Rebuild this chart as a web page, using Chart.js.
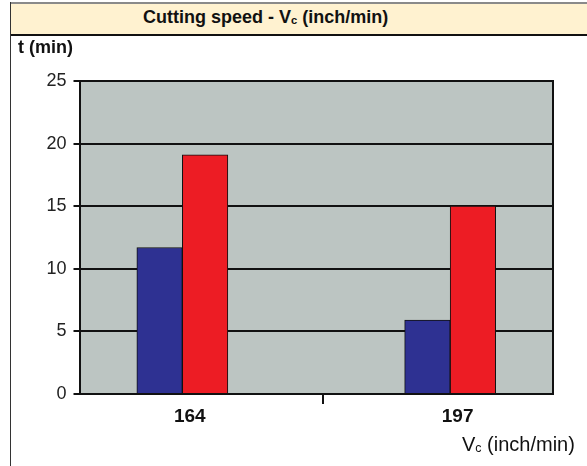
<!DOCTYPE html>
<html>
<head>
<meta charset="utf-8">
<script src="https://cdn.jsdelivr.net/npm/chart.js@4"></script>
<style>
  html, body { margin:0; padding:0; background:#fff; }
  #wrap { position:relative; width:587px; height:466px; overflow:hidden; font-family:"Liberation Sans", Arial, sans-serif; }
  #c { position:absolute; left:0; top:0; }
  #band { position:absolute; left:10px; top:2px; width:590px; height:30px; background:#FFF2D0; border-top:2px solid #8a8a8a; border-bottom:2px solid #111; border-left:1px solid #333; }
  #leftline { position:absolute; left:10px; top:2px; width:1px; height:470px; background:#333; }
  #title { position:absolute; left:143px; top:7px; font-weight:bold; font-size:18px; color:#111; white-space:nowrap; }
  #ytitle { position:absolute; left:18px; top:37px; font-weight:bold; font-size:18px; color:#111; white-space:nowrap; }
  #xtitle { position:absolute; left:462px; top:433px; font-size:20px; color:#111; white-space:nowrap; }
  sub { font-size:0.62em; vertical-align:-0.1em; }
</style>
</head>
<body>
<div id="wrap">
  <canvas id="c" width="587" height="466"></canvas>
  <div id="band"></div>
  <div id="leftline"></div>
  <div id="title">Cutting speed - V<sub>c</sub> (inch/min)</div>
  <div id="ytitle">t (min)</div>
  <div id="xtitle">V<sub>c</sub> (inch/min)</div>
</div>
<script>
const categories = ['164', '197'];
const seriesBlue = [11.7, 5.9];
const seriesRed = [19.1, 15.0];
const yTicks = [0, 5, 10, 15, 20, 25];

const LABEL_SHIFT = 0.028;
const SEP_TICK = 0.525;

const bgPlugin = {
  id: 'plotBg',
  beforeDraw(chart) {
    const a = chart.chartArea, ctx = chart.ctx;
    ctx.save();
    ctx.fillStyle = '#BCC5C2';
    ctx.fillRect(a.left, a.top, a.right - a.left, a.bottom - a.top);
    ctx.restore();
  }
};

new Chart(document.getElementById('c'), {
  type: 'bar',
  data: {
    datasets: [
      { data: categories.map((c, i) => ({ x: i, y: seriesBlue[i] })), backgroundColor: '#2E3192', borderColor: '#111', borderWidth: 1, barThickness: 45.5 },
      { data: categories.map((c, i) => ({ x: i, y: seriesRed[i] })), backgroundColor: '#ED1C24', borderColor: '#111', borderWidth: 1, barThickness: 45.5 }
    ]
  },
  options: {
    responsive: false,
    animation: false,
    events: [],
    layout: { padding: { left: 0, top: 81, right: 34, bottom: 42 } },
    plugins: { legend: { display: false }, tooltip: { enabled: false }, title: { display: false } },
    scales: {
      x: {
        type: 'linear',
        offset: false,
        min: -0.384, max: 1.384,
        afterBuildTicks(scale) {
          const t = categories.map((c, i) => ({ value: i + LABEL_SHIFT }));
          t.splice(1, 0, { value: SEP_TICK });
          scale.ticks = t;
        },
        afterFit(scale) { scale.height = 30; },
        ticks: {
          autoSkip: false, maxRotation: 0, padding: 1,
          color: '#111',
          font: { family: 'Liberation Sans', size: 19, weight: 'bold' },
          callback(v) {
            for (let i = 0; i < categories.length; i++) if (Math.abs(v - (i + LABEL_SHIFT)) < 1e-6) return categories[i];
            return '';
          }
        },
        grid: {
          offset: false,
          drawOnChartArea: false, drawTicks: true, tickLength: 10, lineWidth: 2,
          color: (ctx) => (ctx.tick && Math.abs(ctx.tick.value - SEP_TICK) < 1e-6) ? '#111' : 'rgba(0,0,0,0)'
        },
        border: { display: true, color: '#111', width: 2 }
      },
      y: {
        min: 0, max: 25,
        afterBuildTicks(scale) { scale.ticks = yTicks.map(v => ({ value: v })); },
        afterFit(scale) { scale.width = 79.5; },
        ticks: { color: '#222', padding: 7, font: { family: 'Liberation Sans', size: 18 } },
        grid: { color: '#111', lineWidth: 2, tickLength: 6 },
        border: { display: true, color: '#111', width: 2 }
      },
      y2: {
        position: 'right', min: 0, max: 25,
        afterFit(scale) { scale.width = 0; },
        ticks: { display: false },
        grid: { display: false },
        border: { display: true, color: '#111', width: 2 }
      }
    }
  },
  plugins: [bgPlugin]
});
</script>
</body>
</html>
